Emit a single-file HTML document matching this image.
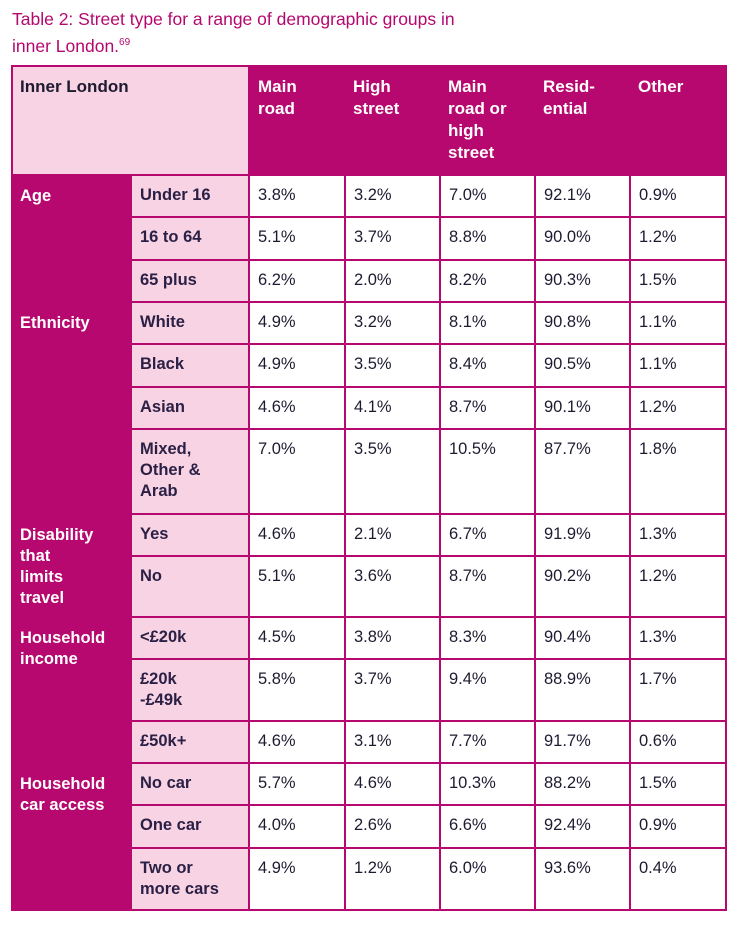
<!DOCTYPE html>
<html><head><meta charset="utf-8"><style>
body{margin:0;width:739px;height:933px;background:#fff;position:relative;font-family:"Liberation Sans",sans-serif;overflow:hidden}
.title{position:absolute;left:12px;top:8px;color:#b5086f;font-size:17.5px;line-height:23px}
.title sup{font-size:10px}
.tbl{position:absolute;left:11px;top:65px;width:716px;height:846px;background:#b7086f}
.r{position:absolute;left:0;width:716px}
.r div{position:absolute;top:1px;bottom:1px;box-sizing:border-box;padding:9px 0 0 8px;font-size:16.5px;line-height:21px;color:#1e1a30}
.s{left:121px;width:116px;background:#f7d3e3;font-weight:bold;color:#2a1f45!important}
.a{left:239px;width:94px;background:#fff}
.b{left:335px;width:93px;background:#fff}
.c{left:430px;width:93px;background:#fff}
.d{left:525px;width:93px;background:#fff}
.e{left:620px;width:94px;background:#fff}
.g{position:absolute;left:9px;color:#fff;font-weight:bold;font-size:16.5px;line-height:21px}
.h{position:absolute;top:11px;color:#fff;font-weight:bold;font-size:17px;line-height:22px}
</style></head><body>
<div class="title">Table 2: Street type for a range of demographic groups in<br>inner London.<sup>69</sup></div>
<div class="tbl">
<div style="position:absolute;left:2px;top:2px;width:235px;height:107px;background:#f7d3e3"></div>
<div style="position:absolute;left:9px;top:11px;font-weight:bold;font-size:17px;line-height:22px;color:#1e1a30">Inner London</div>
<div class="h" style="left:247px">Main<br>road</div>
<div class="h" style="left:342px">High<br>street</div>
<div class="h" style="left:437px">Main<br>road or<br>high<br>street</div>
<div class="h" style="left:532px">Resid-<br>ential</div>
<div class="h" style="left:627px">Other</div>

<div class="g" style="top:121px">Age</div>
<div class="g" style="top:248px">Ethnicity</div>
<div class="g" style="top:460px">Disability<br>that<br>limits<br>travel</div>
<div class="g" style="top:563px">Household<br>income</div>
<div class="g" style="top:709px">Household<br>car access</div>

<div class="r" style="top:110px;height:42px"><div class="s">Under 16</div><div class="a">3.8%</div><div class="b">3.2%</div><div class="c">7.0%</div><div class="d">92.1%</div><div class="e">0.9%</div></div>
<div class="r" style="top:152px;height:43px"><div class="s">16 to 64</div><div class="a">5.1%</div><div class="b">3.7%</div><div class="c">8.8%</div><div class="d">90.0%</div><div class="e">1.2%</div></div>
<div class="r" style="top:195px;height:42px"><div class="s">65 plus</div><div class="a">6.2%</div><div class="b">2.0%</div><div class="c">8.2%</div><div class="d">90.3%</div><div class="e">1.5%</div></div>
<div class="r" style="top:237px;height:42px"><div class="s">White</div><div class="a">4.9%</div><div class="b">3.2%</div><div class="c">8.1%</div><div class="d">90.8%</div><div class="e">1.1%</div></div>
<div class="r" style="top:279px;height:43px"><div class="s">Black</div><div class="a">4.9%</div><div class="b">3.5%</div><div class="c">8.4%</div><div class="d">90.5%</div><div class="e">1.1%</div></div>
<div class="r" style="top:322px;height:42px"><div class="s">Asian</div><div class="a">4.6%</div><div class="b">4.1%</div><div class="c">8.7%</div><div class="d">90.1%</div><div class="e">1.2%</div></div>
<div class="r" style="top:364px;height:85px"><div class="s">Mixed,<br>Other &amp;<br>Arab</div><div class="a">7.0%</div><div class="b">3.5%</div><div class="c">10.5%</div><div class="d">87.7%</div><div class="e">1.8%</div></div>
<div class="r" style="top:449px;height:42px"><div class="s">Yes</div><div class="a">4.6%</div><div class="b">2.1%</div><div class="c">6.7%</div><div class="d">91.9%</div><div class="e">1.3%</div></div>
<div class="r" style="top:491px;height:61px"><div class="s">No</div><div class="a">5.1%</div><div class="b">3.6%</div><div class="c">8.7%</div><div class="d">90.2%</div><div class="e">1.2%</div></div>
<div class="r" style="top:552px;height:42px"><div class="s">&lt;£20k</div><div class="a">4.5%</div><div class="b">3.8%</div><div class="c">8.3%</div><div class="d">90.4%</div><div class="e">1.3%</div></div>
<div class="r" style="top:594px;height:62px"><div class="s">£20k<br>-£49k</div><div class="a">5.8%</div><div class="b">3.7%</div><div class="c">9.4%</div><div class="d">88.9%</div><div class="e">1.7%</div></div>
<div class="r" style="top:656px;height:42px"><div class="s">£50k+</div><div class="a">4.6%</div><div class="b">3.1%</div><div class="c">7.7%</div><div class="d">91.7%</div><div class="e">0.6%</div></div>
<div class="r" style="top:698px;height:42px"><div class="s">No car</div><div class="a">5.7%</div><div class="b">4.6%</div><div class="c">10.3%</div><div class="d">88.2%</div><div class="e">1.5%</div></div>
<div class="r" style="top:740px;height:43px"><div class="s">One car</div><div class="a">4.0%</div><div class="b">2.6%</div><div class="c">6.6%</div><div class="d">92.4%</div><div class="e">0.9%</div></div>
<div class="r" style="top:783px;height:62px"><div class="s">Two or<br>more cars</div><div class="a">4.9%</div><div class="b">1.2%</div><div class="c">6.0%</div><div class="d">93.6%</div><div class="e">0.4%</div></div>
</div>
</body></html>
